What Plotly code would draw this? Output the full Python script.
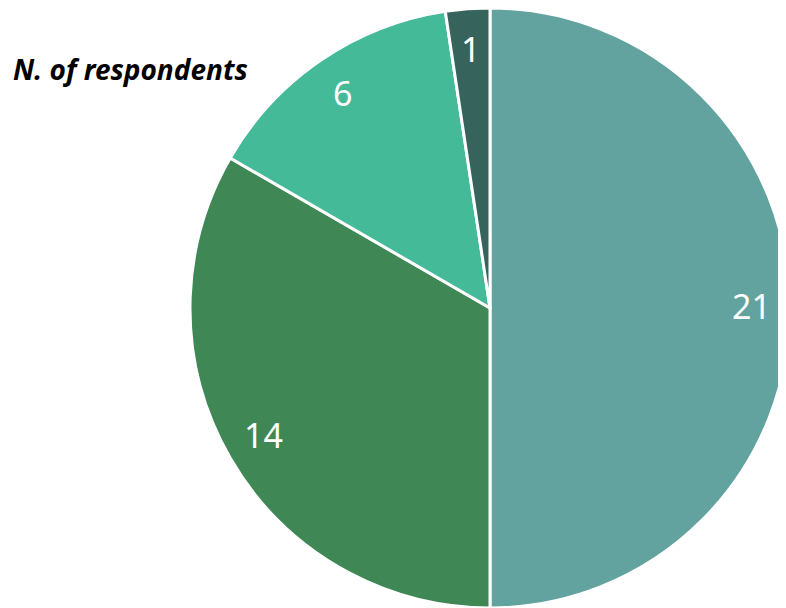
import math
import plotly.graph_objects as go

labels = ["A", "B", "C", "D"]
values = [21, 14, 6, 1]
colors = ["#62A39F", "#3F8855", "#44BA98", "#37635D"]
title_text = "N. of respondents"

W, H = 786, 608
OFF = 8  # default page body margin
R = 300
cx = 490 - OFF
cy = 306 - OFF

fig = go.Figure(go.Pie(
    labels=labels, values=values, sort=False, direction="clockwise", rotation=0,
    marker=dict(colors=colors, line=dict(color="white", width=3)),
    textinfo="none", hoverinfo="label+value",
    domain=dict(x=[(cx - R) / W, min(1, (cx + R) / W)],
                y=[max(0, 1 - (cy + R + 2) / H), 1]),
    showlegend=False,
))

total = sum(values)
cum = 0
for v in values:
    mid = (cum + v / 2) / total * 2 * math.pi
    cum += v
    px = cx + 0.87 * R * math.sin(mid)
    py = cy - 0.86 * R * math.cos(mid)
    fig.add_annotation(x=px / W, y=1 - py / H, xref="paper", yref="paper",
                       xanchor="center", yanchor="middle",
                       text=str(v), showarrow=False,
                       font=dict(family="Noto Sans", size=34, color="white"))

fig.add_annotation(x=3 / W, y=1 - (69 - OFF) / H, xref="paper", yref="paper",
                   xanchor="left", yanchor="middle", showarrow=False,
                   text="<b><i>" + title_text + "</i></b>",
                   font=dict(family="Noto Sans", size=28, color="black"))

fig.update_layout(width=W, height=H, margin=dict(l=0, r=0, t=0, b=0),
                  paper_bgcolor="white", plot_bgcolor="white")
fig.write_html("out.html")
